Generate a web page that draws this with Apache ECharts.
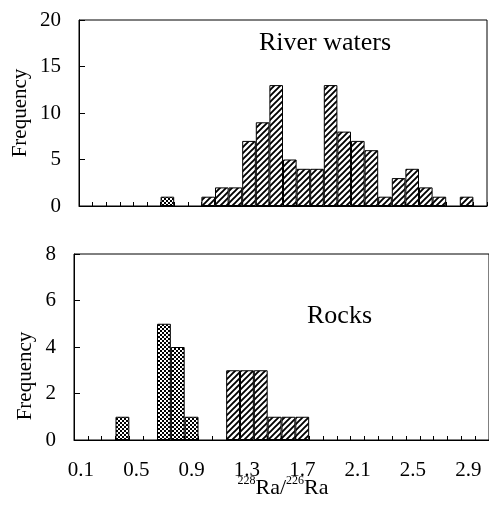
<!DOCTYPE html>
<html>
<head>
<meta charset="utf-8">
<script src="https://cdn.jsdelivr.net/npm/echarts@6/dist/echarts.min.js"></script>
<style>
  html, body { margin: 0; padding: 0; background: #fff; }
  #chart { width: 489px; height: 516px; }
</style>
</head>
<body>
<div id="chart"></div>
<script>
// Histogram bins (0.1-wide classes of 228Ra/226Ra)
const bins = ['0.1','0.2','0.3','0.4','0.5','0.6','0.7','0.8','0.9','1.0',
              '1.1','1.2','1.3','1.4','1.5','1.6','1.7','1.8','1.9','2.0',
              '2.1','2.2','2.3','2.4','2.5','2.6','2.7','2.8','2.9','3.0'];

// River waters: counts per bin
const riverCross = [0,0,0,0,0,0,1,0,0,0, 0,0,0,0,0,0,0,0,0,0, 0,0,0,0,0,0,0,0,0,0];
const riverHatch = [0,0,0,0,0,0,0,0,0,1, 2,2,7,9,13,5,4,4,13,8, 7,6,1,3,4,2,1,0,1,0];

// Rocks: counts per bin
const rockCross = [0,0,0,1,0,0,5,4,1,0, 0,0,0,0,0,0,0,0,0,0, 0,0,0,0,0,0,0,0,0,0];
const rockHatch = [0,0,0,0,0,0,0,0,0,0, 0,3,3,3,1,1,1,0,0,0, 0,0,0,0,0,0,0,0,0,0];

const riverTicks = [0, 5, 10, 15, 20];
const rockTicks = [0, 2, 4, 6, 8];

const FONT = 'Liberation Serif, Times New Roman, serif';

// Fill patterns
function hatchPattern() {
  const s = 6;
  const c = document.createElement('canvas');
  c.width = s; c.height = s;
  const g = c.getContext('2d');
  g.fillStyle = '#fff';
  g.fillRect(0, 0, s, s);
  g.strokeStyle = '#000';
  g.lineWidth = 1.9;
  g.beginPath();
  g.moveTo(-1, s + 1); g.lineTo(s + 1, -1);
  g.moveTo(-2, 2); g.lineTo(2, -2);
  g.moveTo(s - 2, s + 2); g.lineTo(s + 2, s - 2);
  g.stroke();
  return { image: c, repeat: 'repeat' };
}
function crossPattern() {
  const c = document.createElement('canvas');
  c.width = 4; c.height = 4;
  const g = c.getContext('2d');
  g.fillStyle = '#000';
  g.fillRect(0, 0, 4, 4);
  g.fillStyle = '#fff';
  g.fillRect(0, 0, 2, 2);
  g.fillRect(2, 2, 2, 2);
  return { image: c, repeat: 'repeat' };
}
const HATCH = hatchPattern();
const CROSS = crossPattern();

const blankZero = arr => arr.map(v => (v === 0 ? '-' : v));

function barSeries(values, fill, idx) {
  return {
    type: 'bar',
    xAxisIndex: idx, yAxisIndex: idx,
    data: blankZero(values),
    barGap: '-100%',
    barCategoryGap: 0,
    itemStyle: { color: fill, borderColor: '#000', borderWidth: 1 },
    silent: true
  };
}

function xAxis(idx, showLabels) {
  return {
    type: 'category',
    gridIndex: idx,
    data: bins,
    boundaryGap: true,
    axisLine: { lineStyle: { color: '#000', width: 1 } },
    axisTick: { show: true, inside: true, length: 4, interval: 0, alignWithLabel: false,
                lineStyle: { color: '#000' } },
    axisLabel: { show: showLabels, interval: 3, color: '#000', fontFamily: FONT,
                 fontSize: 21, margin: 20 },
    splitLine: { show: false }
  };
}
function yAxis(idx, ticks) {
  return {
    type: 'value',
    gridIndex: idx,
    min: ticks[0],
    max: ticks[ticks.length - 1],
    interval: ticks[1] - ticks[0],
    axisLine: { show: true, lineStyle: { color: '#000', width: 1 } },
    axisTick: { show: true, inside: true, length: 6, lineStyle: { color: '#000' } },
    axisLabel: { color: '#000', fontFamily: FONT, fontSize: 21, margin: 18 },
    splitLine: { show: false }
  };
}

const chart = echarts.init(document.getElementById('chart'), null, { renderer: 'canvas' });
chart.setOption({
  animation: false,
  backgroundColor: '#fff',
  grid: [
    { left: 79, top: 20, width: 408, height: 186, show: true, borderColor: '#000', borderWidth: 1,
      backgroundColor: 'transparent' },
    { left: 74, top: 254, width: 420, height: 186, show: true, borderColor: '#000', borderWidth: 1,
      backgroundColor: 'transparent' }
  ],
  xAxis: [xAxis(0, false), xAxis(1, true)],
  yAxis: [yAxis(0, riverTicks), yAxis(1, rockTicks)],
  series: [
    barSeries(riverCross, CROSS, 0),
    barSeries(riverHatch, HATCH, 0),
    barSeries(rockCross, CROSS, 1),
    barSeries(rockHatch, HATCH, 1)
  ],
  graphic: [
    { type: 'text', left: 259, top: 30,
      style: { text: 'River waters', fontFamily: FONT, fontSize: 26, fill: '#000' } },
    { type: 'text', left: 307, top: 303,
      style: { text: 'Rocks', fontFamily: FONT, fontSize: 26, fill: '#000' } },
    { type: 'text', x: 20, y: 113, rotation: Math.PI / 2,
      style: { text: 'Frequency', fontFamily: FONT, fontSize: 21, fill: '#000',
               align: 'center', verticalAlign: 'middle' } },
    { type: 'text', x: 25, y: 376, rotation: Math.PI / 2,
      style: { text: 'Frequency', fontFamily: FONT, fontSize: 21, fill: '#000',
               align: 'center', verticalAlign: 'middle' } },
    { type: 'text', x: 283, y: 487,
      style: {
        text: '{s|228}{r|Ra/}{s|226}{r|Ra}',
        align: 'center', verticalAlign: 'middle',
        fontFamily: FONT, fill: '#000',
        rich: {
          s: { fontSize: 12, fontFamily: FONT, verticalAlign: 'top', lineHeight: 24 },
          r: { fontSize: 22, fontFamily: FONT, verticalAlign: 'bottom', lineHeight: 24 }
        }
      } }
  ]
});
</script>
</body>
</html>
